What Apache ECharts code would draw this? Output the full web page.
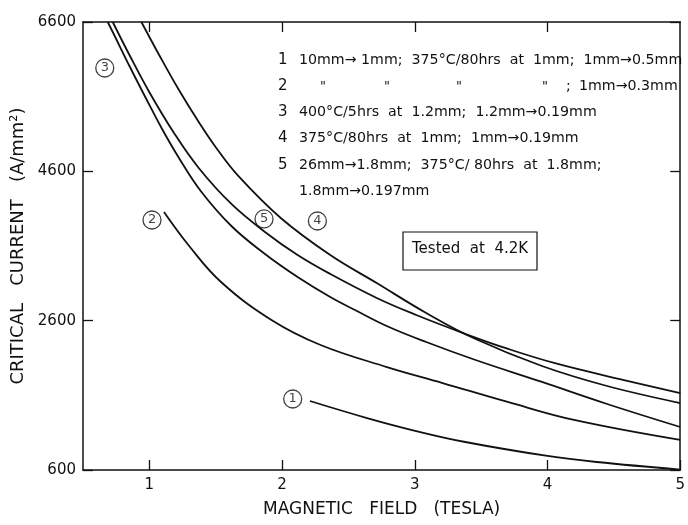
<!DOCTYPE html>
<html>
<head>
<meta charset="utf-8">
<script src="https://cdn.jsdelivr.net/npm/echarts@6/dist/echarts.min.js"></script>
<style>
  html, body { margin: 0; padding: 0; background: #fff; }
  #chart { width: 688px; height: 525px; }
</style>
</head>
<body>
<div id="chart"></div>
<script>
// ---- data (magnetic field in tesla, critical current in A/mm^2) ----
const curveNames = ['1', '2', '3', '4', '5'];

const field1 = [2.21, 2.64, 3.01, 3.38, 4.00, 4.37, 5.0];
const current1 = [1524, 1296, 1122, 975, 788, 707, 605];

const field2 = [1.11, 1.30, 1.54, 1.92, 2.29, 2.79, 3.21, 3.70, 4.20, 5.0];
const current2 = [4055, 3600, 3118, 2609, 2274, 1979, 1765, 1511, 1270, 1002];

const field3 = [0.686, 0.724, 0.85, 0.977, 1.096, 1.223, 1.387, 1.618, 1.871, 2.117, 2.363, 2.564, 2.788, 3.086, 3.458, 3.958, 4.449, 5.0];
const current3 = [6600, 6466, 6011, 5569, 5167, 4779, 4337, 3868, 3493, 3185, 2917, 2729, 2529, 2314, 2073, 1779, 1484, 1176];

const field4 = [0.94, 1.074, 1.223, 1.372, 1.499, 1.67, 1.99, 2.363, 2.713, 3.086, 3.458, 3.958, 4.449, 5.0];
const current4 = [6600, 6158, 5689, 5261, 4926, 4538, 3975, 3479, 3104, 2703, 2354, 1993, 1725, 1497];

const field5 = [0.724, 0.85, 0.999, 1.186, 1.372, 1.618, 1.871, 2.117, 2.363, 2.713, 3.011, 3.384, 3.704, 4.077, 4.576, 5.0];
const current5 = [6600, 6158, 5663, 5113, 4645, 4163, 3788, 3479, 3225, 2904, 2676, 2421, 2221, 2020, 1805, 1631];

// circled curve labels (data coordinates)
const labelText = ['1', '2', '3', '4', '5'];
const labelField = [2.08, 1.02, 0.664, 2.266, 1.864];
const labelCurrent = [1551, 3948, 5984, 3935, 3962];

const xTickValues = [1, 2, 3, 4, 5];
const yMin = 600, yMax = 6600, yStep = 2000;
const xMin = 0.5, xMax = 5;

const legendLines = [
  '10mm\u2192 1mm;  375\u00B0C/80hrs  at  1mm;  1mm\u21920.5mm',
  '',
  '400\u00B0C/5hrs  at  1.2mm;  1.2mm\u21920.19mm',
  '375\u00B0C/80hrs  at  1mm;  1mm\u21920.19mm',
  '26mm\u21921.8mm;  375\u00B0C/ 80hrs  at  1.8mm;',
  '1.8mm\u21920.197mm'
];
const legendNums = ['1', '2', '3', '4', '5', ''];

// ---- build ----
const FONT = 'DejaVu Sans';
const INK = '#111';
function zip(a, b) { return a.map((v, i) => [v, b[i]]); }
const curves = [
  zip(field1, current1), zip(field2, current2), zip(field3, current3),
  zip(field4, current4), zip(field5, current5)
];

const chart = echarts.init(document.getElementById('chart'), null, { renderer: 'canvas' });

const series = curves.map((d, i) => ({
  name: curveNames[i],
  type: 'line',
  data: d,
  smooth: 0.4,
  showSymbol: false,
  symbol: 'none',
  lineStyle: { color: INK, width: 1.8 },
  clip: true,
  z: 3
}));

series.push({
  type: 'scatter',
  data: zip(labelField, labelCurrent).map((p, i) => ({ value: p, name: labelText[i] })),
  symbol: 'circle',
  symbolSize: 18,
  itemStyle: { color: '#fff', borderColor: INK, borderWidth: 1.3 },
  label: {
    show: true, position: 'inside', formatter: p => p.name,
    color: INK, fontFamily: FONT, fontSize: 13
  },
  z: 5
});

const graphics = [];
const rowY = [62, 88, 114, 140, 167, 193];
const LF = '14.2px "' + FONT + '"';
legendLines.forEach((t, i) => {
  if (legendNums[i]) graphics.push({ type: 'text', left: 278, top: rowY[i] - 9,
    style: { text: legendNums[i], font: '15px "' + FONT + '"', fill: INK } });
  if (t) graphics.push({ type: 'text', left: 299, top: rowY[i] - 9,
    style: { text: t, font: LF, fill: INK } });
});
// ditto row
[320, 384, 456, 542].forEach(x => graphics.push({ type: 'text', left: x, top: 80,
  style: { text: '"', font: '13px "' + FONT + '"', fill: INK } }));
graphics.push({ type: 'text', left: 566, top: 79, style: { text: ';', font: LF, fill: INK } });
graphics.push({ type: 'text', left: 579, top: 79, style: { text: '1mm\u21920.3mm', font: LF, fill: INK } });
// tested box
graphics.push({ type: 'rect', shape: { x: 403, y: 232, width: 134, height: 38 },
  style: { fill: '#fff', stroke: INK, lineWidth: 1.2 }, z: 10 });
graphics.push({ type: 'text', left: 412, top: 242, z: 11,
  style: { text: 'Tested  at  4.2K', font: '15px "' + FONT + '"', fill: INK } });

const axisLine = { show: true, lineStyle: { color: INK, width: 1.5 } };
const tickStyle = { lineStyle: { color: INK, width: 1.3 } };

chart.setOption({
  backgroundColor: '#fff',
  animation: false,
  grid: { left: 83, top: 22, right: 1, bottom: 55, containLabel: false },
  xAxis: [{
    type: 'value', min: xMin, max: xMax, position: 'bottom',
    name: 'MAGNETIC   FIELD   (TESLA)', nameLocation: 'middle', nameGap: 31,
    nameTextStyle: { fontFamily: FONT, fontSize: 17, color: INK },
    axisLine: axisLine,
    axisTick: Object.assign({ show: true, inside: true, length: 10, customValues: xTickValues }, tickStyle),
    axisLabel: { customValues: xTickValues, margin: 8, fontFamily: FONT, fontSize: 15, color: INK },
    splitLine: { show: false }
  }, {
    type: 'value', min: xMin, max: xMax, position: 'top',
    axisLine: axisLine,
    axisTick: Object.assign({ show: true, inside: true, length: 10, customValues: [1, 2, 3, 4] }, tickStyle),
    axisLabel: { show: false },
    splitLine: { show: false }
  }],
  yAxis: [{
    type: 'value', min: yMin, max: yMax, interval: yStep, position: 'left',
    name: 'CRITICAL   CURRENT   (A/mm\u00B2)', nameLocation: 'middle', nameGap: 56,
    nameTextStyle: { fontFamily: FONT, fontSize: 18, color: INK },
    axisLine: axisLine,
    axisTick: Object.assign({ show: true, inside: true, length: 10 }, tickStyle),
    axisLabel: { margin: 7, fontFamily: FONT, fontSize: 15, color: INK, formatter: v => String(v) },
    splitLine: { show: false }
  }, {
    type: 'value', min: yMin, max: yMax, interval: yStep, position: 'right',
    axisLine: axisLine,
    axisTick: Object.assign({ show: true, inside: true, length: 10 }, tickStyle),
    axisLabel: { show: false },
    splitLine: { show: false }
  }],
  series: series,
  graphic: graphics
});
</script>
</body>
</html>
